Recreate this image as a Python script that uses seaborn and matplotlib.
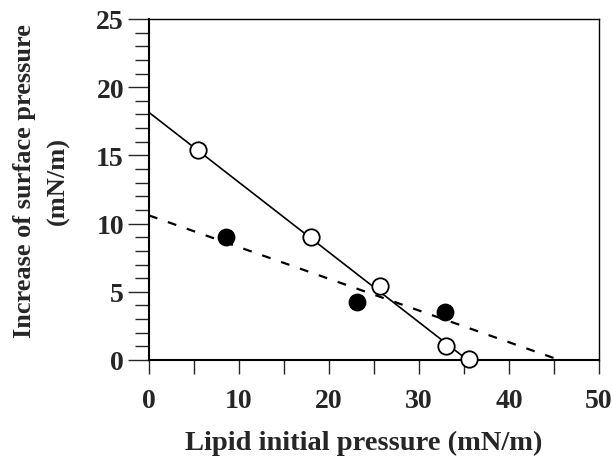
import matplotlib
matplotlib.use("Agg")
import matplotlib.pyplot as plt
import seaborn as sns
import pandas as pd
from matplotlib.ticker import MultipleLocator

# data
open_x = [5.4, 18.0, 25.7, 33.0, 35.5]
open_y = [15.4, 9.0, 5.45, 1.03, 0.05]
filled_x = [8.6, 23.1, 32.9]
filled_y = [9.0, 4.25, 3.5]
solid_fit_x = [0.0, 35.4]
solid_fit_y = [18.15, 0.0]
dashed_fit_x = [0.0, 45.6]
dashed_fit_y = [10.6, 0.0]
x_ticks = [0, 10, 20, 30, 40, 50]
y_ticks = [0, 5, 10, 15, 20, 25]

sns.set_theme(style="ticks")
plt.rcParams['font.family'] = ['Liberation Serif', 'DejaVu Serif']
plt.rcParams['font.weight'] = 'bold'

fig = plt.figure(figsize=(6.12, 4.6), dpi=100)
ax = fig.add_axes([149/612, 1 - 361/460, 450/612, 341/460])

sns.lineplot(x=solid_fit_x, y=solid_fit_y, ax=ax, color='black', lw=1.2, zorder=2)
sns.lineplot(x=dashed_fit_x, y=dashed_fit_y, ax=ax, color='black', lw=1.6,
             linestyle=(0, (4, 5)), zorder=2)
sns.scatterplot(x=open_x, y=open_y, ax=ax, s=140, facecolor='white',
                edgecolor='black', linewidth=1.3, zorder=3, clip_on=False)
sns.scatterplot(x=filled_x, y=filled_y, ax=ax, s=140, color='black',
                edgecolor='black', linewidth=1.0, zorder=3, clip_on=False)

ax.set_xlim(0, 50)
ax.set_ylim(0, 25)
ax.set_xticks(x_ticks)
ax.set_yticks(y_ticks)
ax.xaxis.set_minor_locator(MultipleLocator(5))
ax.yaxis.set_minor_locator(MultipleLocator(1))
ax.tick_params(axis='x', which='both', direction='out', length=10, width=1,
               labelsize=20, pad=10, top=False)
ax.tick_params(axis='y', which='major', direction='out', length=15, width=1,
               labelsize=20, pad=3, right=False)
ax.tick_params(axis='y', which='minor', direction='out', length=10, width=1, right=False)
for lab in ax.get_xticklabels() + ax.get_yticklabels():
    lab.set_fontweight('bold')
for s in ax.spines.values():
    s.set_linewidth(1.0)
    s.set_color('black')
ax.spines['left'].set_linewidth(1.5)
ax.spines['bottom'].set_linewidth(1.5)

ax.set_xlabel('Lipid initial pressure (mN/m)', fontsize=20.5, fontweight='bold')
ax.xaxis.set_label_coords(0.478, -0.205)
ax.set_ylabel('Increase of surface pressure\n(mN/m)', fontsize=19, fontweight='bold',
              linespacing=1.55)
ax.yaxis.set_label_coords(-0.176, 0.528)

fig.savefig('out.png', dpi=100)
